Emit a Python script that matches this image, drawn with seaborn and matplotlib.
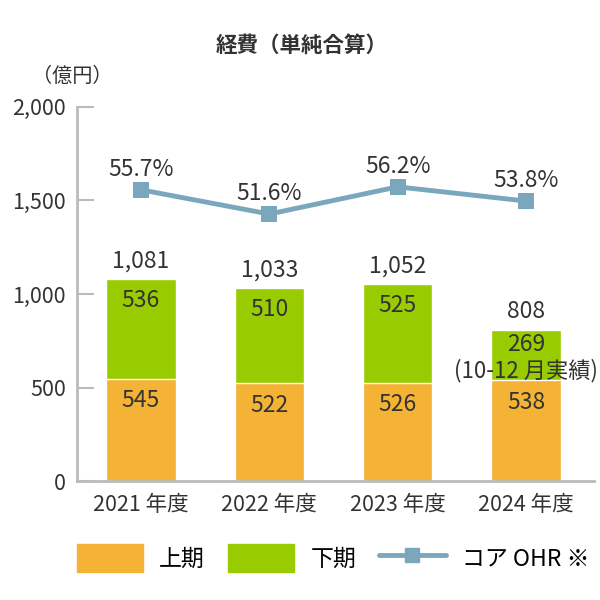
import numpy as np
import pandas as pd
import matplotlib
matplotlib.use('Agg')
import matplotlib.pyplot as plt
import matplotlib.patches as mpatches
import matplotlib.lines as mlines
import seaborn as sns

sns.set_style('white')
plt.rcParams['font.family'] = ['Noto Sans CJK JP', 'DejaVu Sans']

years = ['2021 年度', '2022 年度', '2023 年度', '2024 年度']
first_half = [545, 522, 526, 538]
second_half = [536, 510, 525, 269]
totals = [1081, 1033, 1052, 808]
core_ohr = [55.7, 51.6, 56.2, 53.8]

orange = '#F5B335'
green = '#99CC00'
blue = '#7BA7BC'
text_c = '#333333'
spine_c = '#BBBBBB'

df = pd.DataFrame({'year': years, 'first': first_half, 'second': second_half,
                   'total': totals, 'ohr': core_ohr})

fig = plt.figure(figsize=(6, 6), dpi=100)
ax = fig.add_axes([0.128, 0.198, 0.862, 0.624])

sns.barplot(data=df, x='year', y='total', color=green, width=0.54,
            saturation=1, ax=ax)
sns.barplot(data=df, x='year', y='first', color=orange, width=0.54,
            saturation=1, ax=ax)

ax.set_ylim(0, 2000)
ax.set_xlim(-0.5, 3.53)
ax.set_yticks([0, 500, 1000, 1500, 2000])
ax.set_yticklabels(['0', '500', '1,000', '1,500', '2,000'])
ax.set_xlabel('')
ax.set_ylabel('')
ax.set_xticks([-0.5, 0.5, 1.5, 2.5, 3.5], minor=True)
ax.tick_params(axis='x', which='major', length=0, pad=9, labelsize=15.5, labelcolor=text_c)
ax.tick_params(axis='x', which='minor', direction='in', length=7, width=1.5, color=spine_c)
ax.tick_params(axis='y', direction='in', length=12, width=1.5, color=spine_c,
               pad=8, labelsize=15.5, labelcolor=text_c)
for s in ['top', 'right']:
    ax.spines[s].set_visible(False)
for s in ['left', 'bottom']:
    ax.spines[s].set_color(spine_c)
    ax.spines[s].set_linewidth(2)

# segment labels
fs = 16.5
for i in range(4):
    ax.text(i, first_half[i] - 115, str(first_half[i]), ha='center', va='center',
            fontsize=fs, color=text_c)
    ax.text(i, totals[i] + 96, f'{totals[i]:,}', ha='center', va='center',
            fontsize=fs, color=text_c)
for i in range(3):
    ax.text(i, totals[i] - 115, str(second_half[i]), ha='center', va='center',
            fontsize=fs, color=text_c)
ax.text(3, totals[3] - 80, str(second_half[3]), ha='center', va='center',
        fontsize=fs, color=text_c)
ax.text(3, totals[3] - 218, '(10-12 月実績)', ha='center', va='center',
        fontsize=16, color=text_c)

# core OHR line on hidden axis
ax2 = ax.twinx()
x_idx = np.arange(4)
sns.lineplot(x=x_idx, y=core_ohr, color=blue, linewidth=3.5, marker='s',
             markersize=11, markeredgewidth=0, ax=ax2)
ax2.set_ylim(6.44, 69.73)
ax2.axis('off')
for i, v in enumerate(core_ohr):
    ax2.text(i, v + 3.5, f'{v}%', ha='center', va='center', fontsize=fs, color=text_c)

fig.text(0.502, 0.924, '経費（単純合算）', ha='center', va='center',
         fontsize=15.5, fontweight='bold', color=text_c)
fig.text(0.12, 0.873, '（億円）', ha='center', va='center', fontsize=14.5, color=text_c)

handles = [mpatches.Patch(color=orange, label='上期'),
           mpatches.Patch(color=green, label='下期'),
           mlines.Line2D([], [], color=blue, linewidth=3.5, marker='s', markersize=10,
                         label='コア OHR ※')]
fig.legend(handles=handles, loc='center', bbox_to_anchor=(0.555, 0.07), ncol=3,
           frameon=False, fontsize=16.5, handlelength=2.9, handleheight=1.5,
           columnspacing=1.0, handletextpad=0.7, labelcolor='black')

fig.savefig('out.png', dpi=100)
